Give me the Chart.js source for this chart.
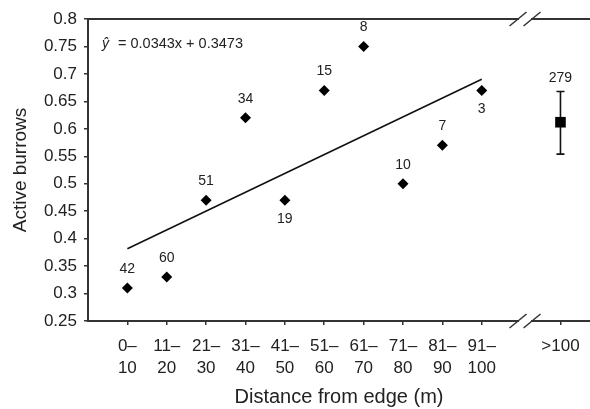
<!DOCTYPE html>
<html>
<head>
<meta charset="utf-8">
<script src="https://cdn.jsdelivr.net/npm/chart.js@4.4.1/dist/chart.umd.min.js"></script>
<style>
  html, body { margin: 0; padding: 0; background: #fff; }
  #wrap { width: 590px; height: 409px; }
</style>
</head>
<body>
<div id="wrap"><canvas id="chart"></canvas></div>
<script>
// Dados
const categories = [['0–', '10'], ['11–', '20'], ['21–', '30'], ['31–', '40'], ['41–', '50'],
                    ['51–', '60'], ['61–', '70'], ['71–', '80'], ['81–', '90'], ['91–', '100']];
const burrows = [0.31, 0.33, 0.47, 0.62, 0.47, 0.67, 0.75, 0.50, 0.57, 0.67];
const sampleSizes = [42, 60, 51, 34, 19, 15, 8, 10, 7, 3];
const labelsBelow = [4, 9];

const farLabel = '>100';
const farValue = 0.612;
const farLow = 0.554;
const farHigh = 0.668;
const farN = 279;

// reta ŷ = 0.0343x + 0.3473 nos extremos (0–10 e 91–100)
const trendValues = [0.3816, 0.6903];
const equation = '= 0.0343x + 0.3473';

const yTicks = [0.25, 0.3, 0.35, 0.4, 0.45, 0.5, 0.55, 0.6, 0.65, 0.7, 0.75, 0.8];

const farPos = categories.length + 1;   // pula uma posição para a quebra do eixo
const breakPos = categories.length + 0.1;
const FONT = "'Liberation Sans', Arial, sans-serif";
const AXIS = '#333';
const TEXT = '#222';

// Moldura superior e quebra do eixo
const framePlugin = {
    id: 'frame',
    afterDraw(chart) {
        const ctx = chart.ctx;
        const area = chart.chartArea;
        const bx = chart.scales.x.getPixelForValue(breakPos);
        ctx.save();
        ctx.strokeStyle = AXIS;
        ctx.lineWidth = 2;
        ctx.beginPath();
        ctx.moveTo(area.left - 1, area.top);
        ctx.lineTo(area.right, area.top);
        ctx.stroke();

        [area.top, area.bottom].forEach(function (y) {
            ctx.fillStyle = '#fff';
            ctx.fillRect(bx - 6, y - 2, 12, 4);
            ctx.strokeStyle = AXIS;
            ctx.lineWidth = 1.5;
            [-7, 7].forEach(function (dx) {
                ctx.beginPath();
                ctx.moveTo(bx + dx - 8.5, y + 7);
                ctx.lineTo(bx + dx + 8.5, y - 7);
                ctx.stroke();
            });
        });
        ctx.restore();
    }
};

// Barra de erro do ponto >100
const errorBarPlugin = {
    id: 'errorBar',
    beforeDatasetsDraw(chart) {
        const ctx = chart.ctx;
        const x = chart.scales.x.getPixelForValue(farPos);
        const yLo = chart.scales.y.getPixelForValue(farLow);
        const yHi = chart.scales.y.getPixelForValue(farHigh);
        ctx.save();
        ctx.strokeStyle = '#111';
        ctx.lineWidth = 1.6;
        ctx.beginPath();
        ctx.moveTo(x, yLo); ctx.lineTo(x, yHi);
        ctx.moveTo(x - 4, yLo); ctx.lineTo(x + 4, yLo);
        ctx.moveTo(x - 4, yHi); ctx.lineTo(x + 4, yHi);
        ctx.stroke();
        ctx.restore();
    }
};

// Rótulos com o tamanho da amostra e a equação
const labelsPlugin = {
    id: 'labels',
    afterDatasetsDraw(chart) {
        const ctx = chart.ctx;
        const xs = chart.scales.x;
        const ys = chart.scales.y;
        ctx.save();
        ctx.fillStyle = TEXT;
        ctx.font = '14px ' + FONT;
        ctx.textAlign = 'center';
        ctx.textBaseline = 'middle';
        sampleSizes.forEach(function (n, i) {
            const px = xs.getPixelForValue(i);
            const py = ys.getPixelForValue(burrows[i]);
            const dy = labelsBelow.includes(i) ? 19 : -19;
            ctx.fillText(String(n), px, py + dy);
        });
        ctx.fillText(String(farN), xs.getPixelForValue(farPos), ys.getPixelForValue(farHigh) - 13);

        const area = chart.chartArea;
        const ex = area.left + 14;
        const ey = area.top + 25;
        ctx.textAlign = 'left';
        ctx.font = 'italic 14px ' + FONT;
        ctx.fillText('ŷ', ex, ey);
        ctx.font = '14.5px ' + FONT;
        ctx.fillText(equation, ex + 16, ey);
        ctx.restore();
    }
};

function createChart() {
    const el = document.getElementById('chart');
    const ctx = el.getContext('2d');

    return new Chart(ctx, {
        type: 'scatter',
        data: {
            datasets: [
                {
                    data: burrows.map(function (v, i) { return { x: i, y: v }; }),
                    pointStyle: 'rectRot',
                    pointRadius: 5.5,
                    backgroundColor: '#000',
                    borderColor: '#000',
                    borderWidth: 0
                },
                {
                    data: [{ x: 0, y: trendValues[0] }, { x: categories.length - 1, y: trendValues[1] }],
                    showLine: true,
                    pointRadius: 0,
                    borderColor: '#111',
                    borderWidth: 1.6
                },
                {
                    data: [{ x: farPos, y: farValue }],
                    pointStyle: 'rect',
                    pointRadius: 7.5,
                    backgroundColor: '#000',
                    borderColor: '#000',
                    borderWidth: 0
                }
            ]
        },
        options: {
            responsive: true,
            maintainAspectRatio: false,
            animation: false,
            layout: { autoPadding: false, padding: { top: 19, right: 0, left: 0, bottom: 0 } },
            plugins: {
                legend: { display: false },
                tooltip: { enabled: false }
            },
            scales: {
                x: {
                    type: 'linear',
                    min: -1,
                    max: 11.75,
                    afterBuildTicks: function (scale) {
                        const t = categories.map(function (c, i) { return { value: i }; });
                        t.push({ value: farPos });
                        scale.ticks = t;
                    },
                    afterFit: function (scale) {
                        scale.height = 88;
                        scale.paddingLeft = 0;
                        scale.paddingRight = 0;
                    },
                    ticks: {
                        autoSkip: false,
                        maxRotation: 0,
                        padding: 11,
                        color: TEXT,
                        font: { family: FONT, size: 17, lineHeight: 1.25 },
                        callback: function (v) { return v === farPos ? farLabel : categories[v]; }
                    },
                    grid: { display: true, drawOnChartArea: false, drawTicks: true, tickLength: 4, color: AXIS, lineWidth: 1.5 },
                    border: { display: true, color: AXIS, width: 2 },
                    title: {
                        display: true,
                        text: 'Distance from edge (m)',
                        color: TEXT,
                        font: { family: FONT, size: 20 },
                        padding: { top: 0, bottom: 0 }
                    }
                },
                y: {
                    min: 0.25,
                    max: 0.8,
                    afterBuildTicks: function (scale) {
                        scale.ticks = yTicks.map(function (v) { return { value: v }; });
                    },
                    afterFit: function (scale) { scale.width = 88; },
                    ticks: {
                        padding: 7,
                        color: TEXT,
                        font: { family: FONT, size: 17 },
                        callback: function (v) { return String(Number(v.toFixed(2))); }
                    },
                    grid: { display: true, drawOnChartArea: false, drawTicks: true, tickLength: 4, color: AXIS, lineWidth: 1.5 },
                    border: { display: true, color: AXIS, width: 2 },
                    title: {
                        display: true,
                        text: 'Active burrows',
                        color: TEXT,
                        font: { family: FONT, size: 19 },
                        padding: { top: 9, bottom: 0 }
                    }
                }
            }
        },
        plugins: [framePlugin, errorBarPlugin, labelsPlugin]
    });
}

createChart();
</script>
</body>
</html>
